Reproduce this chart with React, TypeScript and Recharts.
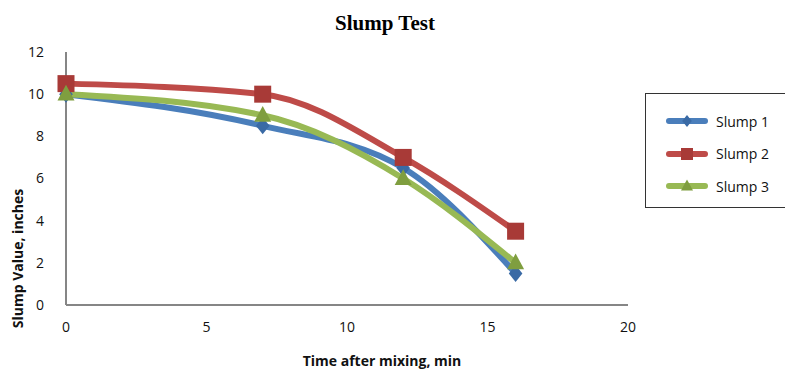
import type { JSX } from 'react'
import { LineChart, Line, XAxis, YAxis } from 'recharts'

const times = [0, 7, 12, 16]
const slump1 = [10, 8.5, 6.5, 1.5]
const slump2 = [10.5, 10, 7, 3.5]
const slump3 = [10, 9, 6, 2]
const xTicks = [0, 5, 10, 15, 20]
const yTicks = [0, 2, 4, 6, 8, 10, 12]

const data = times.map((t, i) => ({
  t,
  s1: slump1[i],
  s2: slump2[i],
  s3: slump3[i],
}))

const series = [
  { key: 's1', name: 'Slump 1', color: '#4a7ebb', dark: '#3a6aa5', shape: 'diamond' },
  { key: 's2', name: 'Slump 2', color: '#be4b48', dark: '#a83a37', shape: 'square' },
  { key: 's3', name: 'Slump 3', color: '#98b954', dark: '#7f9e3f', shape: 'triangle' },
]

const font = '"Open Sans", "Liberation Sans", sans-serif'

const Marker = ({ x, y, shape, fill, size = 8.5 }: { x: number; y: number; shape: string; fill: string; size?: number }) => {
  if (shape === 'diamond') {
    return <polygon points={`${x},${y - size} ${x + size * 0.8},${y} ${x},${y + size} ${x - size * 0.8},${y}`} fill={fill} />
  }
  if (shape === 'square') {
    return <rect x={x - size} y={y - size} width={size * 2} height={size * 2} fill={fill} />
  }
  return <polygon points={`${x},${y - size * 1.1} ${x + size},${y + size * 0.75} ${x - size},${y + size * 0.75}`} fill={fill} />
}

const makeDot = (shape: string, fill: string) => (props: any) => {
  const { cx, cy, index } = props
  return (
    <g key={`${shape}-${index}`}>
      <Marker x={cx} y={cy} shape={shape} fill={fill} />
    </g>
  )
}

const LegendBox = (): JSX.Element => (
  <div
    style={{
      position: 'absolute',
      left: 645,
      top: 93,
      width: 140,
      height: 115,
      borderTop: '1.5px solid #333',
      borderLeft: '1.5px solid #333',
      borderBottom: '1.5px solid #333',
      background: '#fff',
      boxSizing: 'border-box',
      paddingTop: 11,
    }}
  >
    {series.map((s) => (
      <div key={s.key} style={{ display: 'flex', alignItems: 'center', height: 32.5, paddingLeft: 19 }}>
        <svg width={44} height={16}>
          <line x1={4} y1={8} x2={40} y2={8} stroke={s.color} strokeWidth={6} strokeLinecap="round" />
          <Marker x={22} y={8} shape={s.shape} fill={s.dark} size={6} />
        </svg>
        <span style={{ marginLeft: 7, fontFamily: font, fontSize: 14, color: '#111' }}>{s.name}</span>
      </div>
    ))}
  </div>
)

export default function App(): JSX.Element {
  return (
    <div style={{ position: 'absolute', left: 0, top: 0, width: 785, height: 370, background: '#fff', overflow: 'hidden' }}>
      <div
        style={{
          position: 'absolute',
          top: 9,
          left: 0,
          width: 770,
          textAlign: 'center',
          fontFamily: '"Liberation Serif", serif',
          fontWeight: 'bold',
          fontSize: 21,
          lineHeight: '28px',
        }}
      >
        Slump Test
      </div>
      <LineChart width={785} height={370} data={data} margin={{ top: 52, right: 157, left: 26, bottom: 35 }}>
        <XAxis
          dataKey="t"
          type="number"
          domain={[0, 20]}
          ticks={xTicks}
          stroke="#868686"
          strokeWidth={2}
          tickLine={false}
          tick={{ fill: '#111', fontFamily: font, fontSize: 14 }}
          tickMargin={11}
          height={30}
          label={{
            value: 'Time after mixing, min',
            position: 'insideBottom',
            offset: -31,
            dx: 35,
            style: { fontFamily: font, fontSize: 14, fontWeight: 'bold', fill: '#111' },
          }}
        />
        <YAxis
          domain={[0, 12]}
          ticks={yTicks}
          stroke="#868686"
          strokeWidth={2}
          tickLine={false}
          tick={{ fill: '#111', fontFamily: font, fontSize: 14 }}
          tickMargin={16}
          width={40}
          label={{
            value: 'Slump Value, inches',
            angle: -90,
            position: 'insideLeft',
            dx: -13,
            dy: 80,
            style: { fontFamily: font, fontSize: 14, fontWeight: 'bold', fill: '#111', textAnchor: 'middle' },
          }}
        />
        {series.map((s) => (
          <Line
            key={s.key}
            type="monotone"
            dataKey={s.key}
            name={s.name}
            stroke={s.color}
            strokeWidth={6}
            strokeLinecap="round"
            dot={makeDot(s.shape, s.dark)}
            activeDot={false}
            isAnimationActive={false}
          />
        ))}
      </LineChart>
      <LegendBox />
    </div>
  )
}
